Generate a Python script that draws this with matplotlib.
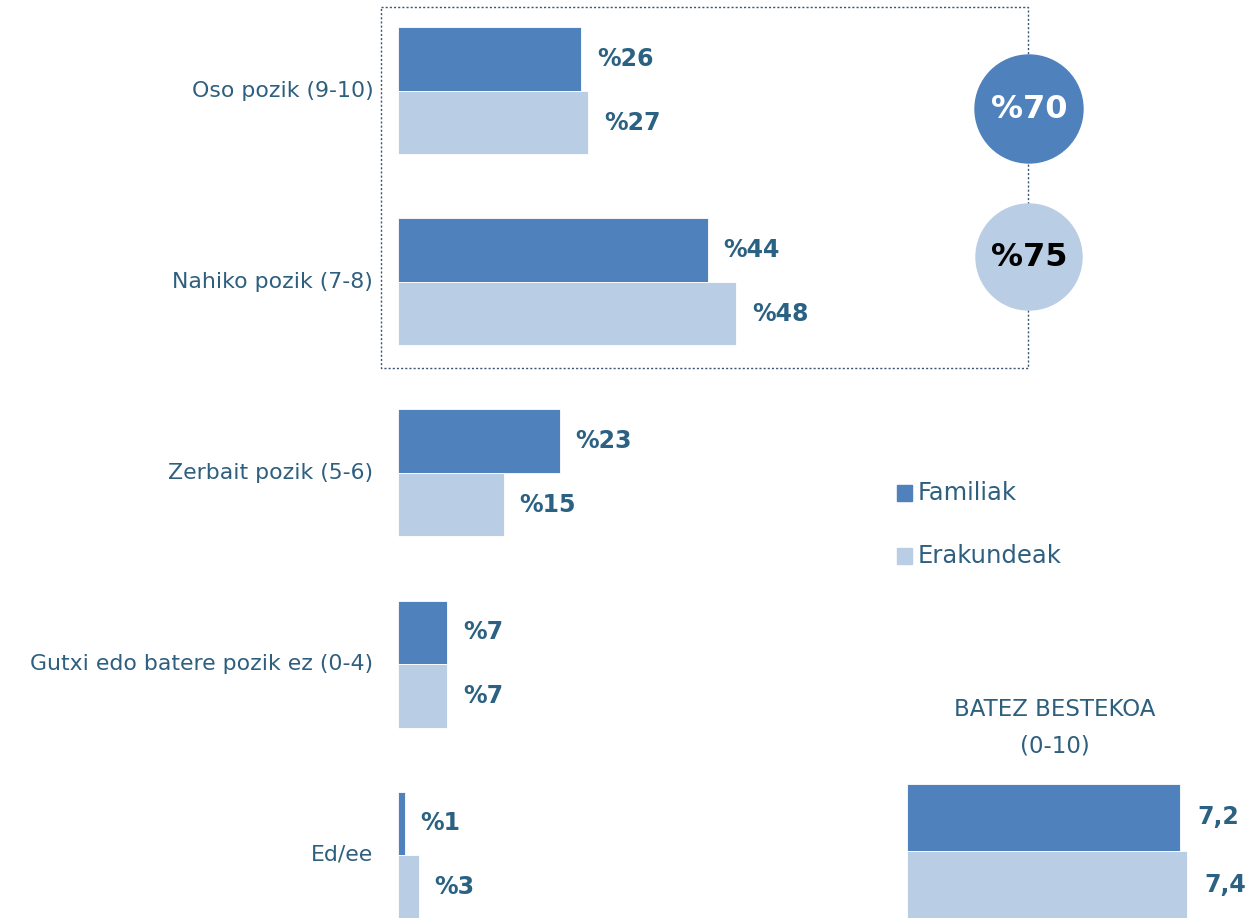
import numpy as np
import matplotlib
matplotlib.use("Agg")
import matplotlib.pyplot as plt
from matplotlib.patches import Rectangle, Circle

plt.rcParams['font.family'] = ['DejaVu Sans']

# data
categories = ['Oso pozik (9-10)', 'Nahiko pozik (7-8)', 'Zerbait pozik (5-6)',
              'Gutxi edo batere pozik ez (0-4)', 'Ed/ee']
familiak = [26, 44, 23, 7, 1]
erakundeak = [27, 48, 15, 7, 3]
series_names = ['Familiak', 'Erakundeak']
top_totals = [70, 75]          # Oso + Nahiko pozik
mean_values = [7.2, 7.4]
mean_labels = ['7,2', '7,4']

dark = '#4F81BD'
light = '#B9CDE5'
txt = '#2E5F7E'
lbl = '#2B6182'

W, H = 1248, 918
fig = plt.figure(figsize=(W / 100, H / 100), dpi=100)

# main bar chart
x0 = 398
ax = fig.add_axes([x0 / W, 0, (W - x0) / W, 1])
px_per = 7.05
ax.set_xlim(0, (W - x0) / px_per)
gap = 191
ax.set_ylim((H - 91) / gap, -91 / gap)
ax.axis('off')

y = np.arange(len(categories))
h = 63.5 / gap
ax.barh(y - h / 2, familiak, height=h, color=dark, edgecolor='white', linewidth=0.6)
ax.barh(y + h / 2, erakundeak, height=h, color=light, edgecolor='white', linewidth=0.6)

for i, (f, e) in enumerate(zip(familiak, erakundeak)):
    ax.text(f + 2.2, i - h / 2, f'%{f}', va='center', ha='left', fontsize=17,
            fontweight='bold', color=lbl)
    ax.text(e + 2.2, i + h / 2, f'%{e}', va='center', ha='left', fontsize=17,
            fontweight='bold', color=lbl)
    ax.text(-3.5, i, categories[i], va='center', ha='right', fontsize=15.8, color=txt)

# overlay for box, circles, legend
ov = fig.add_axes([0, 0, 1, 1], facecolor='none')
ov.set_xlim(0, W)
ov.set_ylim(H, 0)
ov.axis('off')

ov.add_patch(Rectangle((381, 7), 1028 - 381, 368 - 7, fill=False, edgecolor='#3A5570',
                       linestyle=(0, (1.5, 1.5)), linewidth=1))
ov.add_patch(Circle((1029, 109), 54, color=dark, zorder=3))
ov.add_patch(Circle((1029, 257), 53, color=light, zorder=3))
ov.text(1029, 110, f'%{top_totals[0]}', ha='center', va='center', fontsize=23,
        fontweight='bold', color='white', zorder=4)
ov.text(1029, 258, f'%{top_totals[1]}', ha='center', va='center', fontsize=23,
        fontweight='bold', color='black', zorder=4)

for k, (name, c) in enumerate(zip(series_names, [dark, light])):
    yy = 493 + k * 63
    ov.add_patch(Rectangle((897, yy - 8), 15, 16, color=c))
    ov.text(918, yy, name, ha='left', va='center', fontsize=17.5, color=txt)

ov.text(1055, 709, 'BATEZ BESTEKOA', ha='center', va='center', fontsize=16.5, color=txt)
ov.text(1055, 746, '(0-10)', ha='center', va='center', fontsize=16.5, color=txt)

# mean inset
mx0 = 907
ax2 = fig.add_axes([mx0 / W, 0, (W - mx0) / W, (H - 784) / H])
ax2.set_xlim(0, (W - mx0) / 37.9)
ax2.set_ylim(1.5, -0.5)
ax2.axis('off')
ax2.barh([0, 1], mean_values, height=1, color=[dark, light], edgecolor='white', linewidth=0.6)
for j, (v, s) in enumerate(zip(mean_values, mean_labels)):
    ax2.text(v + 0.45, j, s, ha='left', va='center', fontsize=17, fontweight='bold', color=lbl)

fig.savefig('out.png', dpi=100)
